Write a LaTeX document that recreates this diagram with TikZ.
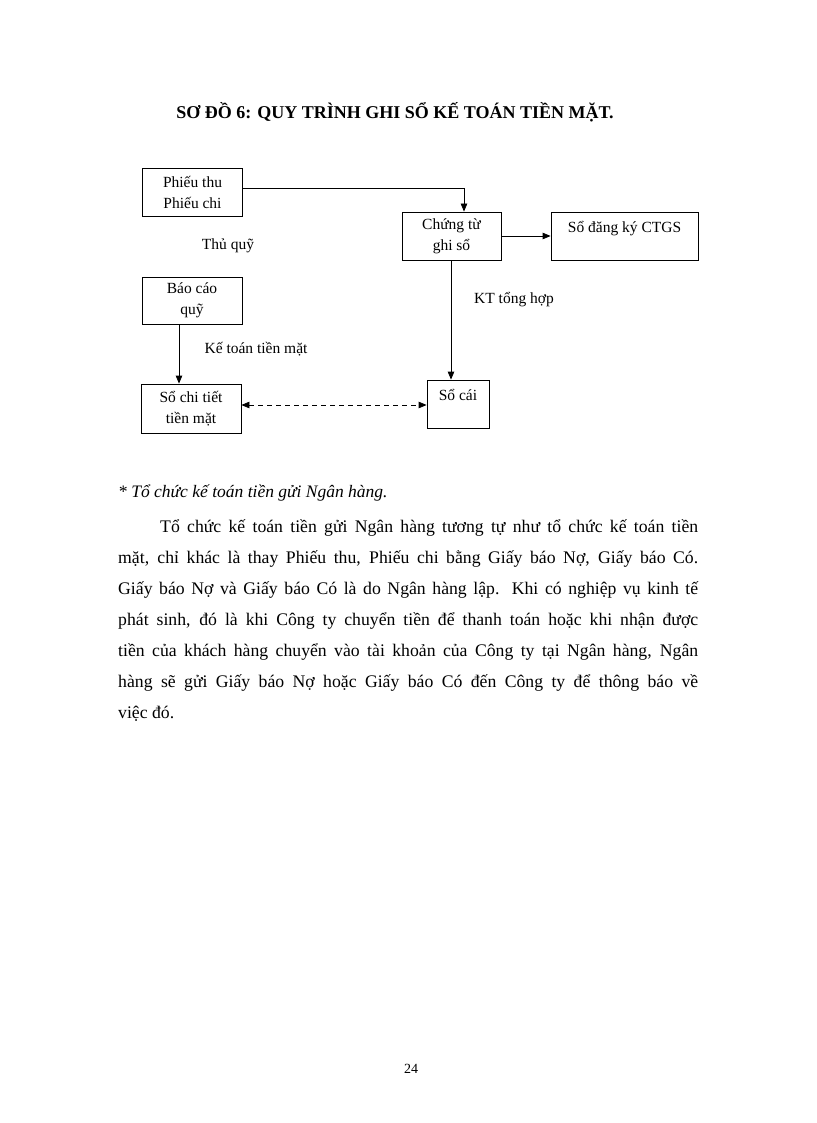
\documentclass[tikz,border=0pt]{standalone}
\usepackage{fontspec}
\setmainfont{Liberation Serif}
\usetikzlibrary{arrows.meta}
\tikzset{
  box/.style={draw, line width=0.8pt, inner sep=0pt, align=center, font=\fontsize{15.5}{21}\selectfont},
  lbl/.style={inner sep=0pt, font=\fontsize{15.5}{20}\selectfont},
  arr/.style={line width=0.8pt, -{Triangle[length=8pt,width=6.5pt]}},
  darr/.style={line width=0.8pt, dash pattern=on 5pt off 4pt, {Triangle[length=8pt,width=6.5pt]}-{Triangle[length=8pt,width=6.5pt]}},
  bodyline/.style={anchor=base west, inner sep=0pt, font=\fontsize{17.7}{20}\selectfont},
}
\begin{document}
\begin{tikzpicture}[x=1pt,y=-1pt]
\useasboundingbox[fill=white] (0,0) rectangle (816,1123);
% title
\node[inner sep=0pt, font=\fontsize{18}{20}\selectfont\bfseries] (title) at (395,112) {SƠ ĐỒ 6: QUY TRÌNH GHI SỔ KẾ TOÁN TIỀN MẶT.};
% boxes
\node[box, minimum width=100pt, minimum height=48pt] (phieu) at (192.5,192) {Phiếu thu\\Phiếu chi};
\node[box, minimum width=99pt, minimum height=48pt] (ctgs) at (451.5,236) {Chứng từ\\ghi sổ};
\node[box, minimum width=147pt, minimum height=48pt] (dk) at (624.5,236) {Sổ đăng ký CTGS\\[-10pt]\strut};
\node[box, minimum width=100pt, minimum height=47pt] (baocao) at (192,300.5) {Báo cáo\\quỹ};
\node[box, minimum width=100pt, minimum height=49pt] (sct) at (191,408.5) {Sổ chi tiết\\tiền mặt};
\node[box, minimum width=62pt, minimum height=48pt] (socai) at (458,404) {Sổ cái\\[-10pt]\strut};
% labels
\node[lbl] (thuquy) at (228,246) {Thủ quỹ};
\node[lbl] (kttong) at (514,300) {KT tổng hợp};
\node[lbl] (ktoan) at (256,349) {Kế toán tiền mặt};
% connectors
\draw[arr] ([yshift=4pt]phieu.east) -| ([xshift=12.5pt]ctgs.north);
\draw[arr] (ctgs.east) -- (ctgs.east -| dk.west);
\draw[arr] ([xshift=-0.5pt]ctgs.south) -- ([xshift=-0.5pt]ctgs.south |- socai.north);
\draw[arr] ([xshift=-13pt]baocao.south) -- ([xshift=-13pt]baocao.south |- sct.north);
\draw[darr] ([yshift=3.5pt]sct.east) -- ([yshift=3.5pt]sct.east -| socai.west);
% text
\node[anchor=base west, inner sep=0pt, font=\fontsize{17.5}{20}\selectfont\itshape] (head) at (118,497) {* Tổ chức kế toán tiền gửi Ngân hàng.};
\node[bodyline] (l1) at (160,532) {\makebox[538pt][s]{Tổ chức kế toán tiền gửi Ngân hàng tương tự như tổ chức kế toán tiền}};
\node[bodyline] (l2) at (118,563) {\makebox[580pt][s]{mặt, chỉ khác là thay Phiếu thu, Phiếu chi bằng Giấy báo Nợ, Giấy báo Có.}};
\node[bodyline] (l3) at (118,594) {\makebox[580pt][s]{Giấy báo Nợ và Giấy báo Có là do Ngân hàng lập. Khi có nghiệp vụ kinh tế}};
\node[bodyline] (l4) at (118,625) {\makebox[580pt][s]{phát sinh, đó là khi Công ty chuyển tiền để thanh toán hoặc khi nhận được}};
\node[bodyline] (l5) at (118,656) {\makebox[580pt][s]{tiền của khách hàng chuyển vào tài khoản của Công ty tại Ngân hàng, Ngân}};
\node[bodyline] (l6) at (118,687) {\makebox[580pt][s]{hàng sẽ gửi Giấy báo Nợ hoặc Giấy báo Có đến Công ty để thông báo về}};
\node[bodyline] (l7) at (118,718) {việc đó.};
\node[anchor=base, inner sep=0pt, font=\fontsize{14}{16}\selectfont] (pg) at (411,1073) {24};
\end{tikzpicture}
\end{document}
